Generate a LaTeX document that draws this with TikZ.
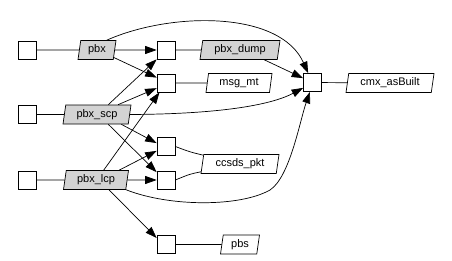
\documentclass[tikz,border=0pt]{standalone}
\usepackage{fontspec}
\setmainfont{Liberation Sans}
\usetikzlibrary{shapes.geometric,arrows.meta}
\definecolor{nodegray}{HTML}{D3D3D3}
\begin{document}
\begin{tikzpicture}[x=1pt,y=-1pt,
 box/.style={draw, minimum size=18pt, inner sep=0pt, line width=0.7pt},
 para/.style={draw, trapezium, trapezium left angle=75, trapezium right angle=105, trapezium stretches body, minimum height=19pt, inner sep=0pt, line width=0.7pt, font=\fontsize{11}{13}\selectfont},
 gpara/.style={para, fill=nodegray},
 link/.style={line width=0.7pt},
 arr/.style={link, -{Triangle[length=11.5pt,width=8pt]}}]
\useasboundingbox (0,0) rectangle (452,260);
% nodes
\node[box] (b1) at (27,50) {};
\node[gpara, minimum width=38pt] (pbx) at (97,50) {pbx};
\node[box] (b2) at (166,50) {};
\node[gpara, minimum width=80pt] (dump) at (240,50) {pbx\_dump};
\node[box] (b3) at (166,83) {};
\node[para, minimum width=66pt] (msg) at (239,83) {msg\_mt};
\node[box] (c) at (312.5,82.5) {};
\node[para, minimum width=88pt] (cmx) at (390,83) {cmx\_asBuilt};
\node[box] (b7) at (27,114.5) {};
\node[gpara, minimum width=68pt] (scp) at (97,114.5) {pbx\_scp};
\node[box] (b4) at (166,146.5) {};
\node[para, minimum width=78pt] (ccsds) at (240,164) {ccsds\_pkt};
\node[box] (b8) at (27,180) {};
\node[gpara, minimum width=65pt] (lcp) at (96,180) {pbx\_lcp};
\node[box] (b5) at (166,180) {};
\node[box] (b6) at (166,244.5) {};
\node[para, minimum width=39pt] (pbs) at (240,244.5) {pbs};
% plain links
\draw[link] (b1) -- (pbx);
\draw[link] (b2) -- (dump);
\draw[link] (b3) -- (msg);
\draw[link] (c) -- (cmx);
\draw[link] (b7) -- (scp);
\draw[link] (b8) -- (lcp);
\draw[link] (b6) -- (pbs);
\draw[link] (b4.east) .. controls (190,152) .. (ccsds);
\draw[link] (b5.east) .. controls (190,174) .. (ccsds);
% arrows
\draw[arr] (pbx) -- (b2);
\draw[arr] (pbx.-24) -- (b3.150);
\draw[arr] (pbx.north east) .. controls (170,12) and (280,10) .. (c.115);
\draw[arr] (dump.-22) -- (c.155);
\draw[arr] (scp.east) .. controls (230,114) and (275,103) .. (c.210);
\draw[arr] (scp.41) -- (b2.south west);
\draw[arr] (scp.25) -- (b3.209);
\draw[arr] (scp.-22) -- (b4.160);
\draw[arr] (scp.-41) -- (b5.140);
\draw[arr] (lcp.52) -- (b3.235);
\draw[arr] (lcp.23) -- (b4.205);
\draw[arr] (lcp) -- (b5);
\draw[arr] (lcp.-37) -- (b6.145);
\draw[arr] (lcp.-18) .. controls (170,207) and (240,207) .. (270,190) .. controls (290,177) and (300,120) .. (c.255);
\end{tikzpicture}
\end{document}
